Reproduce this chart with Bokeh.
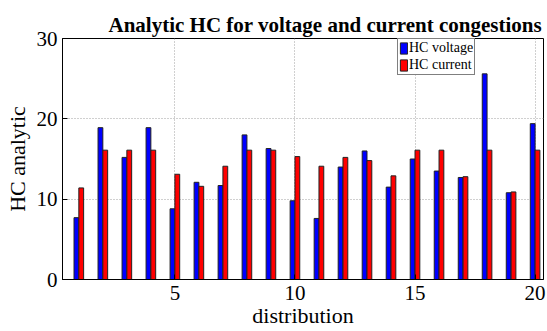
from bokeh.plotting import figure
from bokeh.models import ColumnDataSource, Range1d, FixedTicker, Legend, LegendItem
from bokeh.embed import file_html
from bokeh.resources import INLINE

distribution = list(range(1, 21))
hc_voltage = [7.7, 18.9, 15.2, 18.9, 8.8, 12.1, 11.7, 18.0, 16.3, 9.8,
              7.6, 14.0, 16.0, 11.5, 15.0, 13.5, 12.7, 25.6, 10.8, 19.4]
hc_current = [11.4, 16.1, 16.1, 16.1, 13.1, 11.6, 14.1, 16.1, 16.1, 15.3,
              14.1, 15.2, 14.8, 12.9, 16.1, 16.1, 12.8, 16.1, 10.9, 16.1]
x_ticks = [5, 10, 15, 20]
y_ticks = [0, 10, 20, 30]

off = 0.1
src = ColumnDataSource(dict(
    xv=[d - off for d in distribution],
    xc=[d + off for d in distribution],
    v=hc_voltage,
    c=hc_current,
))

FONT = "'Liberation Serif', 'Times New Roman', serif"

p = figure(width=547, height=331, output_backend="svg", toolbar_location=None,
           x_range=Range1d(0.32, 20.35), y_range=Range1d(0, 30),
           min_border_left=62, min_border_right=4, min_border_top=38, min_border_bottom=52)

rv = p.vbar(x="xv", top="v", width=0.2, source=src, fill_color="#0000ff",
            line_color="#222222", line_width=1)
rc = p.vbar(x="xc", top="c", width=0.2, source=src, fill_color="#ff0000",
            line_color="#222222", line_width=1)

p.title.text = "Analytic HC for voltage and current congestions"
p.title.text_font = FONT
p.title.text_font_size = "21px"
p.title.text_font_style = "bold"
p.title.text_color = "black"
p.title.align = "left"
p.title.offset = 46
p.title.standoff = 4

p.xaxis.ticker = FixedTicker(ticks=x_ticks)
p.yaxis.ticker = FixedTicker(ticks=y_ticks)
p.xaxis.axis_label = "distribution"
p.yaxis.axis_label = "HC analytic"
for ax in (p.xaxis[0], p.yaxis[0]):
    ax.axis_label_text_font = FONT
    ax.axis_label_text_font_size = "22px"
    ax.axis_label_text_font_style = "normal"
    ax.major_label_text_font = FONT
    ax.major_label_text_font_size = "21px"
    ax.major_tick_in = 5
    ax.major_tick_out = 0
    ax.minor_tick_in = 0
    ax.minor_tick_out = 0
    ax.axis_line_color = "black"
    ax.major_tick_line_color = "black"
    ax.major_label_text_color = "black"
    ax.axis_label_text_color = "black"
p.xaxis.major_label_standoff = 6
p.yaxis.major_label_standoff = 5
p.xaxis.axis_label_standoff = 0
p.yaxis.axis_label_standoff = 4

p.grid.grid_line_color = "#a0a0a0"
p.grid.grid_line_dash = "1 2"
p.grid.grid_line_width = 1
p.outline_line_color = "black"
p.outline_line_width = 1

legend = Legend(items=[LegendItem(label="HC voltage", renderers=[rv]),
                       LegendItem(label="HC current", renderers=[rc])],
                location=(335, 204))
legend.label_text_font = FONT
legend.label_text_font_size = "14px"
legend.label_text_color = "black"
legend.glyph_width = 9
legend.glyph_height = 14
legend.label_height = 14
legend.label_standoff = 1
legend.spacing = 1
legend.padding = 1
legend.margin = 0
legend.border_line_color = "black"
legend.border_line_width = 1
legend.background_fill_alpha = 1
p.add_layout(legend)

open("out.html", "w").write(file_html(p, INLINE))
